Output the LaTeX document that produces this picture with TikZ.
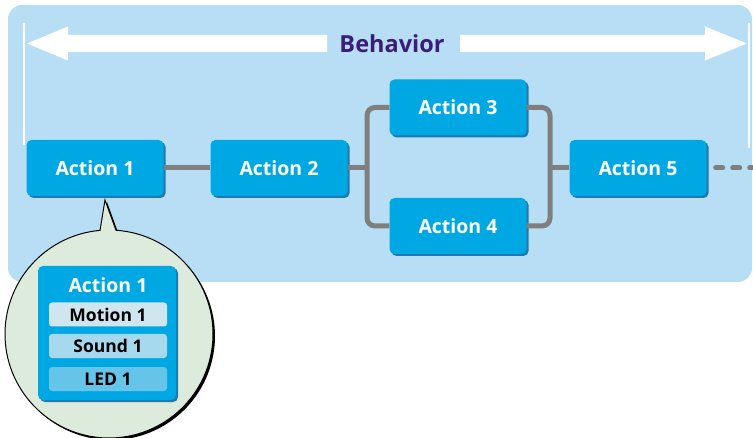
\documentclass[tikz,border=0pt]{standalone}
\usepackage{fontspec}
\setmainfont{Open Sans}
\usetikzlibrary{shadows,calc}
\definecolor{panel}{HTML}{B7DEF4}
\definecolor{actblue}{HTML}{00A8E3}
\definecolor{actshadow}{HTML}{1F78B0}
\definecolor{conngray}{HTML}{7F7F7F}
\definecolor{behav}{HTML}{3A1C7A}
\definecolor{bubble}{HTML}{DDEBDD}
\definecolor{subA}{HTML}{CFE6EF}
\definecolor{subB}{HTML}{A6D9EE}
\definecolor{subC}{HTML}{66C4E8}
\tikzset{
  actbox/.style={rectangle, rounded corners=5pt, fill=actblue, minimum width=137pt, minimum height=56pt,
    text=white, font=\fontsize{19.5}{22}\selectfont\bfseries, inner sep=0pt,
    drop shadow={shadow xshift=2pt, shadow yshift=-2pt, fill=actshadow, opacity=1}},
  conn/.style={draw=conngray, line width=5pt, rounded corners=8pt},
  subbox/.style={rectangle, rounded corners=3pt, minimum width=118pt, minimum height=24pt, inner sep=0pt,
    text=black, font=\fontsize{17.5}{20}\selectfont\bfseries},
  bigarrow/.style={fill=white},
  guide/.style={draw=white, line width=2pt}
}
\begin{document}
\begin{tikzpicture}[x=1pt,y=1pt]
\useasboundingbox (0,0) rectangle (753,437);
% panel
\fill[panel, rounded corners=14pt] (8,155) rectangle (752,432);
% guide lines
\draw[guide] (24,414) -- (24,292);
\draw[guide] (749,414) -- (749,289);
% big double arrow
\fill[bigarrow] (27,393.5) -- (68,410.5) -- (68,402) -- (327,402) -- (327,385) -- (68,385) -- (68,376.5) -- cycle;
\fill[bigarrow] (747,393.5) -- (705,410.5) -- (705,402) -- (460,402) -- (460,385) -- (705,385) -- (705,376.5) -- cycle;
\node[text=behav, font=\fontsize{23.5}{26}\selectfont\bfseries] (beh) at (392,393) {Behavior};
% connector points
\coordinate (fl) at (367,269);
\coordinate (fr) at (550,269);
\coordinate (dend) at (756,269);
\node[actbox] (a1) at (95,269) {Action 1};
\node[actbox] (a2) at (279,269) {Action 2};
\node[actbox] (a3) at (458,329.5) {Action 3};
\node[actbox] (a4) at (458,211) {Action 4};
\node[actbox] (a5) at (638,269) {Action 5};
\draw[conn] (a1.east) -- (a2.west);
\draw[conn] (a2.east) -- (fl);
\draw[conn] (a3.west) -| (fl) |- (a4.west);
\draw[conn] (a3.east) -| (fr) |- (a4.east);
\draw[conn] (fr) -- (a5.west);
\draw[draw=conngray, line width=5pt, line cap=round, dash pattern=on 7pt off 10pt] ($(a5.east)+(9,0)$) -- (dend);
% callout bubble
\coordinate (cc) at (109,103);
\coordinate (tip) at (105,237);
\fill[black] ($(cc)+(2,-2)+(94.96:104)$) -- ($(tip)+(2,-2)$) -- ($(cc)+(2,-2)+(86.14:104)$) arc[start angle=86.14, end angle=-265.04, radius=104] -- cycle;
\filldraw[fill=bubble, draw=black, line width=1pt] ($(cc)+(94.96:104)$) -- (tip) -- ($(cc)+(86.14:104)$) arc[start angle=86.14, end angle=-265.04, radius=104] -- cycle;
% inner box
\node[rectangle, rounded corners=5pt, fill=actblue, minimum width=138pt, minimum height=134pt, inner sep=0pt,
  drop shadow={shadow xshift=2pt, shadow yshift=-2pt, fill=actshadow, opacity=1}] (ib) at (107,104) {};
\node[text=white, font=\fontsize{19.5}{22}\selectfont\bfseries] (ibt) at (108,152) {Action 1};
\node[subbox, fill=subA] (m1) at (108,122.5) {Motion 1};
\node[subbox, fill=subB] (s1) at (108,91) {Sound 1};
\node[subbox, fill=subC] (l1) at (108,58) {LED 1};
\end{tikzpicture}
\end{document}
